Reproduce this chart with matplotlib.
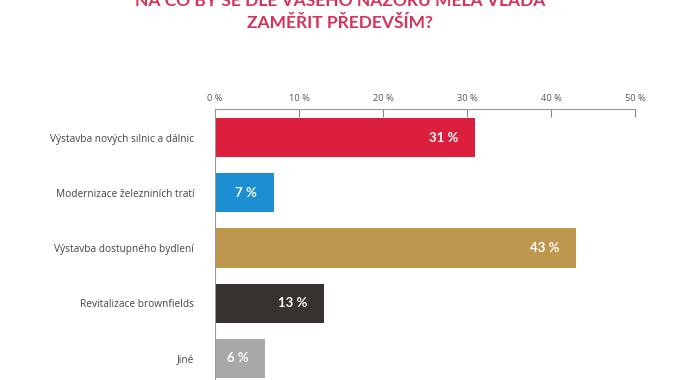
import matplotlib.pyplot as plt

categories = ["Výstavba nových silnic a dálnic", "Modernizace železniních tratí",
              "Výstavba dostupného bydlení", "Revitalizace brownfields", "Jiné"]
values = [31, 7, 43, 13, 6]
colors = ["#dc1f3c", "#1b8fd2", "#bf964d", "#373230", "#a8a8aa"]
ticks = [0, 10, 20, 30, 40, 50]
title1 = "NA CO BY SE DLE VAŠEHO NÁZORU MĚLA VLÁDA"
title2 = "ZAMĚŘIT PŘEDEVŠÍM?"

fig = plt.figure(figsize=(6.74, 3.80), dpi=100, facecolor="white")
ax = fig.add_axes([215/674, 0, 420/674, 1 - 109/380])

ypos = list(range(len(categories)))
ax.barh(ypos, values, height=0.71, color=colors)
for y, v in zip(ypos, values):
    ax.text(v - 2, y, f"{v} %", ha="right", va="center", color="white",
            fontsize=9.5, fontweight="bold", family="Lato")

ax.set_xlim(0, 50)
ax.set_ylim(4.39, -0.516)
ax.set_xticks(ticks)
ax.set_xticklabels([f"{t} %" for t in ticks], fontsize=6.7, color="#555555", family="Open Sans")
ax.xaxis.tick_top()
ax.tick_params(axis="x", direction="in", length=6, width=0.8, color="#888888", pad=4)
ax.set_yticks(ypos)
ax.set_yticklabels(categories, fontsize=7.3, color="#444444", family="Open Sans")
ax.tick_params(axis="y", length=0, pad=15)

for s in ["right", "bottom"]:
    ax.spines[s].set_visible(False)
for s in ["top", "left"]:
    ax.spines[s].set_color("#999999")
    ax.spines[s].set_linewidth(0.8)

fig.text(340/674, 1 - 1/380, title1, ha="center", va="center", fontsize=12.5,
         fontweight="bold", color="#d6335a", family="Lato")
fig.text(340/674, 1 - 23/380, title2, ha="center", va="center", fontsize=12.5,
         fontweight="bold", color="#d6335a", family="Lato")

fig.savefig("out.png", dpi=100, facecolor="white")
